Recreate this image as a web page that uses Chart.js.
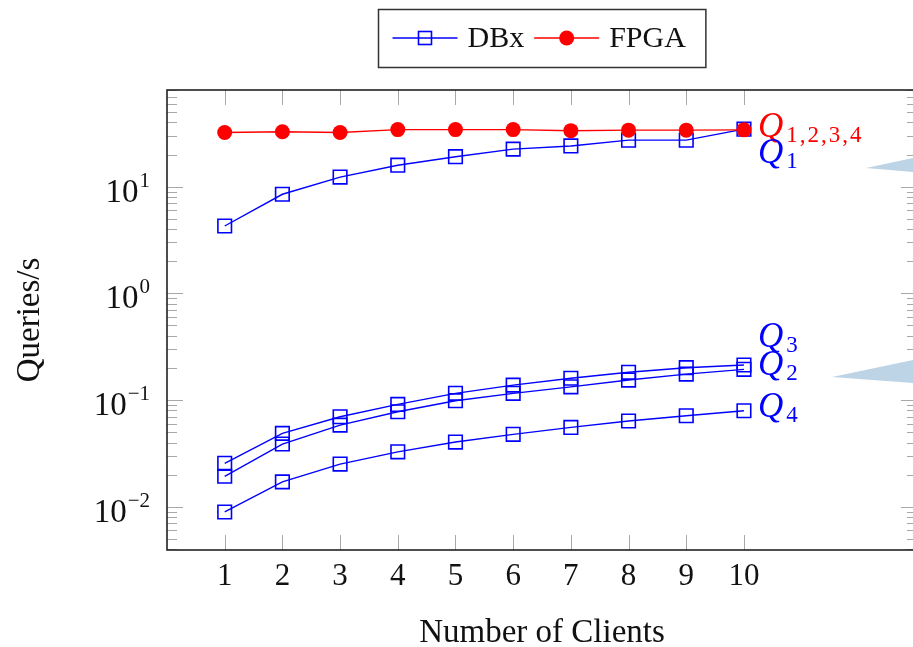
<!DOCTYPE html>
<html lang="en">
<head>
    <meta charset="UTF-8">
    <title>Queries/s vs Number of Clients</title>
    <script src="https://cdn.jsdelivr.net/npm/chart.js"></script>
    <style>
        html, body { margin: 0; padding: 0; background: #fff; }
        canvas { display: block; }
    </style>
</head>
<body>
    <canvas id="chart" width="913" height="647"></canvas>

    <script>
        // data
        const clients = [1, 2, 3, 4, 5, 6, 7, 8, 9, 10];
        const fpga = [32.2, 32.7, 32.2, 34.3, 34.3, 34.3, 33.5, 33.9, 33.9, 34.1];
        const dbxQ1 = [4.28, 8.49, 12.3, 15.9, 19.1, 22.5, 24.1, 27.3, 27.3, 34.6];
        const dbxQ2 = [0.0193, 0.0387, 0.0582, 0.0777, 0.0986, 0.1156, 0.133, 0.154, 0.175, 0.194];
        const dbxQ3 = [0.0255, 0.0487, 0.0697, 0.091, 0.1156, 0.138, 0.160, 0.182, 0.201, 0.213];
        const dbxQ4 = [0.00893, 0.0171, 0.0251, 0.0327, 0.0404, 0.0477, 0.0554, 0.0636, 0.0713, 0.0794];

        // axis ticks
        const xTicks = [1, 2, 3, 4, 5, 6, 7, 8, 9, 10];
        const yDecades = [-2, -1, 0, 1];
        const xTitle = 'Number of Clients';
        const yTitle = 'Queries/s';

        // end-of-line labels (Q with subscript)
        const qNames = ['Q', 'Q', 'Q', 'Q', 'Q'];
        const qSubs = ['1,2,3,4', '1', '2', '3', '4'];

        const SERIF = "'Liberation Serif', 'Times New Roman', serif";
        const BLUE = '#0000ff';
        const RED = '#ff0000';

        const toPts = arr => arr.map((v, i) => ({ x: clients[i], y: v }));

        const dbxStyle = {
            label: 'DBx',
            borderColor: BLUE,
            borderWidth: 1.4,
            pointStyle: 'rect',
            pointRadius: 9.6,
            pointBorderWidth: 1.6,
            pointBorderColor: BLUE,
            pointBackgroundColor: 'rgba(0,0,0,0)',
            order: 1
        };

        // label offsets from the last point of each series (dy of Q baseline)
        const qOffsets = [
            { ds: 0, dy: 7, color: RED },
            { ds: 1, dy: 34, color: BLUE },
            { ds: 2, dy: 6, color: BLUE },
            { ds: 3, dy: -18, color: BLUE },
            { ds: 4, dy: 6, color: BLUE }
        ];

        function line(ctx, x1, y1, x2, y2) {
            ctx.beginPath();
            ctx.moveTo(x1, y1);
            ctx.lineTo(x2, y2);
            ctx.stroke();
        }

        const axesPlugin = {
            id: 'pgfAxes',
            beforeDatasetsDraw(chart) {
                const { ctx, chartArea: a, scales: { x, y } } = chart;
                const right = a.right + 4;
                ctx.save();
                ctx.strokeStyle = '#a8a8a8';
                ctx.lineWidth = 1;
                // x ticks, inward at top and bottom
                xTicks.forEach(v => {
                    const px = Math.round(x.getPixelForValue(v)) + 0.5;
                    line(ctx, px, a.top, px, a.top + 15);
                    line(ctx, px, a.bottom - 15, px, a.bottom);
                });
                // y ticks (major + minor), inward at left and right
                for (let e = -3; e <= 1; e++) {
                    for (let m = 1; m <= 9; m++) {
                        const v = m * Math.pow(10, e);
                        if (v < y.min || v > y.max) continue;
                        const py = Math.round(y.getPixelForValue(v)) + 0.5;
                        const len = m === 1 ? 16 : 10;
                        line(ctx, a.left, py, a.left + len, py);
                        line(ctx, right - len, py, right, py);
                    }
                }
                // frame
                ctx.strokeStyle = '#222';
                ctx.lineWidth = 1.6;
                ctx.strokeRect(a.left, a.top, right - a.left, a.bottom - a.top);
                ctx.restore();
            },
            afterDraw(chart) {
                const { ctx, chartArea: a, scales: { x, y } } = chart;
                const right = a.right + 4;
                ctx.save();
                ctx.fillStyle = '#111';

                // x tick labels
                ctx.font = '31px ' + SERIF;
                ctx.textAlign = 'center';
                ctx.textBaseline = 'alphabetic';
                xTicks.forEach(v => {
                    ctx.fillText(String(v), x.getPixelForValue(v), a.bottom + 35);
                });

                // y tick labels 10^e
                yDecades.forEach(e => {
                    const py = y.getPixelForValue(Math.pow(10, e));
                    const exp = e < 0 ? '\u2212' + Math.abs(e) : String(e);
                    ctx.textAlign = 'right';
                    ctx.font = '21px ' + SERIF;
                    ctx.fillText(exp, 150, py);
                    const ew = ctx.measureText(exp).width;
                    ctx.font = '33px ' + SERIF;
                    ctx.fillText('10', 150 - ew - 1, py + 15);
                });

                // axis titles
                ctx.font = '33px ' + SERIF;
                ctx.textAlign = 'center';
                ctx.fillText(xTitle, (a.left + right) / 2, 642);
                ctx.save();
                ctx.translate(30, (a.top + a.bottom) / 2);
                ctx.rotate(-Math.PI / 2);
                ctx.textBaseline = 'middle';
                ctx.fillText(yTitle, 0, 0);
                ctx.restore();

                // legend box
                const items = [
                    { text: 'DBx', ds: chart.data.datasets[1] },
                    { text: 'FPGA', ds: chart.data.datasets[0] }
                ];
                ctx.font = '30px ' + SERIF;
                const lineLen = 65;
                const widths = items.map(it => ctx.measureText(it.text).width);
                const boxW = 14 + items.reduce((s, it, i) => s + lineLen + 10 + widths[i], 0) + 10 + 20;
                const boxL = Math.round((a.left + right) / 2 - boxW / 2) + 0.5;
                ctx.strokeStyle = '#333';
                ctx.lineWidth = 1.5;
                ctx.strokeRect(boxL, 9.5, boxW, 58);
                let cx = boxL + 14;
                const ly = 38;
                items.forEach((it, i) => {
                    ctx.strokeStyle = it.ds.borderColor;
                    ctx.lineWidth = 1.4;
                    line(ctx, cx, ly, cx + lineLen, ly);
                    const mx = cx + lineLen / 2;
                    if (it.ds.pointStyle === 'rect') {
                        ctx.lineWidth = 1.6;
                        ctx.strokeRect(mx - 6.5, ly - 6.5, 13, 13);
                    } else {
                        ctx.fillStyle = it.ds.pointBackgroundColor;
                        ctx.beginPath();
                        ctx.arc(mx, ly, 7.5, 0, Math.PI * 2);
                        ctx.fill();
                    }
                    ctx.fillStyle = '#111';
                    ctx.textAlign = 'left';
                    ctx.fillText(it.text, cx + lineLen + 10, 47);
                    cx += lineLen + 10 + widths[i] + 10;
                });

                // Q labels at the end of the lines
                qOffsets.forEach((o, i) => {
                    const meta = chart.getDatasetMeta(o.ds);
                    const pt = meta.data[meta.data.length - 1];
                    const qx = pt.x + 14;
                    const qy = pt.y + o.dy;
                    ctx.fillStyle = o.color;
                    ctx.textAlign = 'left';
                    ctx.font = 'italic 35px ' + SERIF;
                    ctx.fillText(qNames[i], qx, qy);
                    const qw = ctx.measureText(qNames[i]).width;
                    ctx.font = '23px ' + SERIF;
                    ctx.letterSpacing = '2px';
                    ctx.fillText(qSubs[i], qx + qw + 3, qy + 5);
                    ctx.letterSpacing = '0px';
                });

                // light blue pointers coming in from the right
                ctx.fillStyle = '#bdd4e6';
                ctx.beginPath();
                ctx.moveTo(866, 168); ctx.lineTo(913, 158); ctx.lineTo(913, 172);
                ctx.closePath();
                ctx.fill();
                ctx.beginPath();
                ctx.moveTo(832, 377); ctx.lineTo(913, 360); ctx.lineTo(913, 383);
                ctx.closePath();
                ctx.fill();

                ctx.restore();
            }
        };

        new Chart(document.getElementById('chart'), {
            type: 'line',
            data: {
                datasets: [
                    {
                        label: 'FPGA',
                        data: toPts(fpga),
                        borderColor: RED,
                        borderWidth: 1.4,
                        pointStyle: 'circle',
                        pointRadius: 7.5,
                        pointBorderWidth: 0,
                        pointBackgroundColor: RED,
                        order: 0
                    },
                    Object.assign({ data: toPts(dbxQ1) }, dbxStyle),
                    Object.assign({ data: toPts(dbxQ2) }, dbxStyle),
                    Object.assign({ data: toPts(dbxQ3) }, dbxStyle),
                    Object.assign({ data: toPts(dbxQ4) }, dbxStyle)
                ]
            },
            options: {
                responsive: false,
                animation: false,
                layout: { autoPadding: false, padding: { left: 167, top: 90, right: 0, bottom: 97 } },
                elements: { line: { tension: 0, fill: false } },
                scales: {
                    x: { type: 'linear', display: false, min: 0, max: 12.93, bounds: 'data' },
                    y: { type: 'logarithmic', display: false, min: 0.00393, max: 80.6, bounds: 'data' }
                },
                plugins: {
                    legend: { display: false },
                    tooltip: { enabled: false }
                }
            },
            plugins: [axesPlugin]
        });
    </script>
</body>
</html>
